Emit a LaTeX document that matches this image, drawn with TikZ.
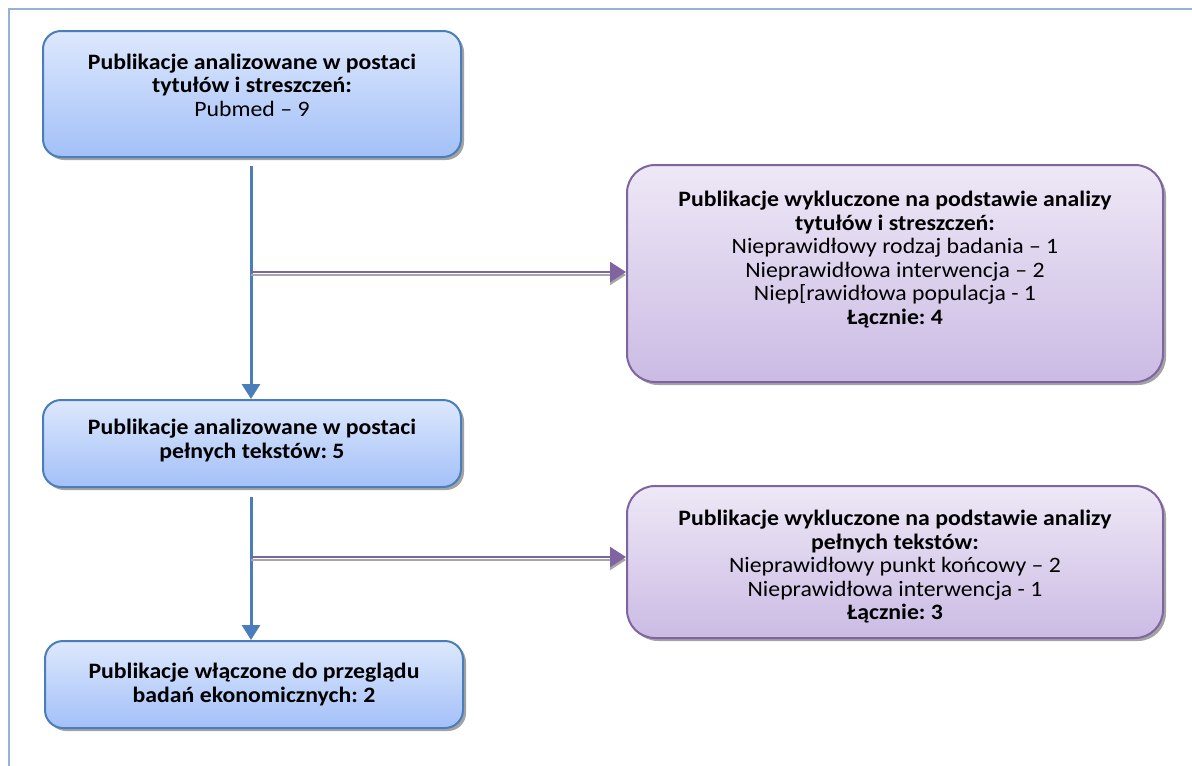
\documentclass[tikz,border=0pt]{standalone}
\usepackage{fontspec}
\setmainfont{Carlito}[FakeStretch=1.08]
\usepackage{tikz}
\usetikzlibrary{positioning, arrows.meta, calc, shadows}
\definecolor{cFrame}{RGB}{149,179,215}
\definecolor{cB}{RGB}{74,126,187}
\definecolor{cBtop}{RGB}{221,232,253}
\definecolor{cBbot}{RGB}{163,192,248}
\definecolor{cP}{RGB}{128,100,162}
\definecolor{cPtop}{RGB}{238,232,246}
\definecolor{cPbot}{RGB}{203,187,228}
\frenchspacing

\begin{document}
\begin{tikzpicture}[x=1pt, y=-1pt, thick, font=\fontsize{22}{23.5}\selectfont,
    box/.style={rectangle, inner sep=0pt, line width=2pt,
        drop shadow={shadow xshift=3pt, shadow yshift=-3pt, fill=black!45, opacity=0.8}},
    bluebox/.style={box, rounded corners=18pt, draw=cB, top color=cBtop, bottom color=cBbot, minimum width=418pt},
    purplebox/.style={box, rounded corners=28pt, draw=cP, top color=cPtop, bottom color=cPbot, minimum width=536pt},
    txt/.style={align=center, inner sep=0pt},
    down/.style={draw=cB, line width=3pt, -{Triangle[length=15pt, width=18pt]}},
    side/.style={draw=cP, line width=2.5pt, -{Triangle[length=16pt, width=20pt]}},
    sideshadow/.style={draw=black!35, line width=2.5pt, -{Triangle[length=16pt, width=20pt]}}]
    \useasboundingbox (0,0) rectangle (1192,766);
    % Frame
    \draw[cFrame, line width=2pt] (9,766) -- (9,9) -- (1192,9);

    % Boxes
    \node[bluebox, minimum height=126pt] (A) at (252,94) {};
    \node[bluebox, minimum height=87pt] (B) at (252,443.5) {};
    \node[bluebox, minimum height=87pt] (C) at (254,684.5) {};
    \node[purplebox, minimum height=217pt] (D) at (895,273.5) {};
    \node[purplebox, minimum height=152pt] (E) at (895,562) {};

    % Texts
    \node[txt] (A-t) at ($(A)+(0,-9)$)
        {\textbf{Publikacje analizowane w postaci}\\\textbf{tytułów i streszczeń:}\\Pubmed – 9};
    \node[txt] (B-t) at ($(B)+(0,-3)$)
        {\textbf{Publikacje analizowane w postaci}\\\textbf{pełnych tekstów: 5}};
    \node[txt] (C-t) at (C)
        {\textbf{Publikacje włączone do przeglądu}\\\textbf{badań ekonomicznych: 2}};
    \node[txt] (D-t) at ($(D)+(0,-14)$)
        {\textbf{Publikacje wykluczone na podstawie analizy}\\\textbf{tytułów i streszczeń:}\\
         Nieprawidłowy rodzaj badania – 1\\Nieprawidłowa interwencja – 2\\
         Niep[rawidłowa populacja - 1\\\textbf{Łącznie: 4}};
    \node[txt] (E-t) at ($(E)+(0,5)$)
        {\textbf{Publikacje wykluczone na podstawie analizy}\\\textbf{pełnych tekstów:}\\
         Nieprawidłowy punkt końcowy – 2\\Nieprawidłowa interwencja - 1\\\textbf{Łącznie: 3}};

    % Junctions
    \coordinate (j1) at (251,272);
    \coordinate (j2) at (251,557);

    % Arrows
    \draw[down, shorten <=8pt] (A.south -| j1) -- (B.north -| j1);
    \draw[down, shorten <=9pt] (B.south -| j1) -- (C.north -| j1);
    \draw[sideshadow] ($(j1)+(0,3)$) -- ($(j1 -| D.west)+(0,3)$);
    \draw[side] (j1) -- (j1 -| D.west);
    \draw[sideshadow] ($(j2)+(0,3)$) -- ($(j2 -| E.west)+(0,3)$);
    \draw[side] (j2) -- (j2 -| E.west);
\end{tikzpicture}
\end{document}
